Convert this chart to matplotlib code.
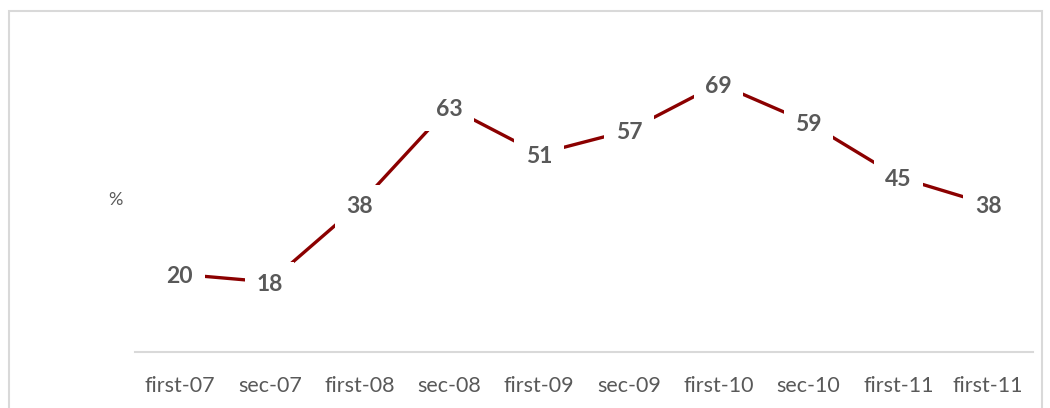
import matplotlib
matplotlib.use('Agg')
import matplotlib.pyplot as plt
from matplotlib.patches import Rectangle

periods = ['first-07', 'sec-07', 'first-08', 'sec-08', 'first-09',
           'sec-09', 'first-10', 'sec-10', 'first-11', 'first-11']
values = [20, 18, 38, 63, 51, 57, 69, 59, 45, 38]

lineColor = '#8b0000'
textColor = '#595959'
plt.rcParams['font.family'] = ['Lato', 'DejaVu Sans']

fig = plt.figure(figsize=(10.5, 4.08), dpi=100)
ax = fig.add_axes([0.1286, 0.1373, 0.8552, 0.7622])

# outer chart frame
fig.patches.append(Rectangle((9/1050, -0.05), 1033/1050, 1.05 - 11/408,
                             transform=fig.transFigure, fill=False,
                             edgecolor='#d9d9d9', linewidth=1.5))

x = list(range(len(periods)))
ax.plot(x, values, color=lineColor, linewidth=2.4, zorder=2)
for xi, v in zip(x, values):
    ax.text(xi, v - 0.6, str(v), ha='center', va='center', fontsize=16.5,
            fontweight='bold', color=textColor, zorder=3,
            bbox=dict(boxstyle='square,pad=0.5', facecolor='white', edgecolor='none'))

ax.set_xlim(-0.5, len(periods) - 0.5)
ax.set_ylim(0, 80)
ax.set_xticks(x)
ax.set_xticklabels(periods, fontsize=15.5, color=textColor)
ax.tick_params(axis='x', length=0, pad=17)
ax.set_yticks([])
for side in ['top', 'right', 'left']:
    ax.spines[side].set_visible(False)
ax.spines['bottom'].set_color('#d9d9d9')
ax.spines['bottom'].set_linewidth(1.5)

fig.text(115/1050, 1 - 200/408, '%', ha='center', va='center', fontsize=13, color=textColor)

fig.savefig('out.png', dpi=100)
